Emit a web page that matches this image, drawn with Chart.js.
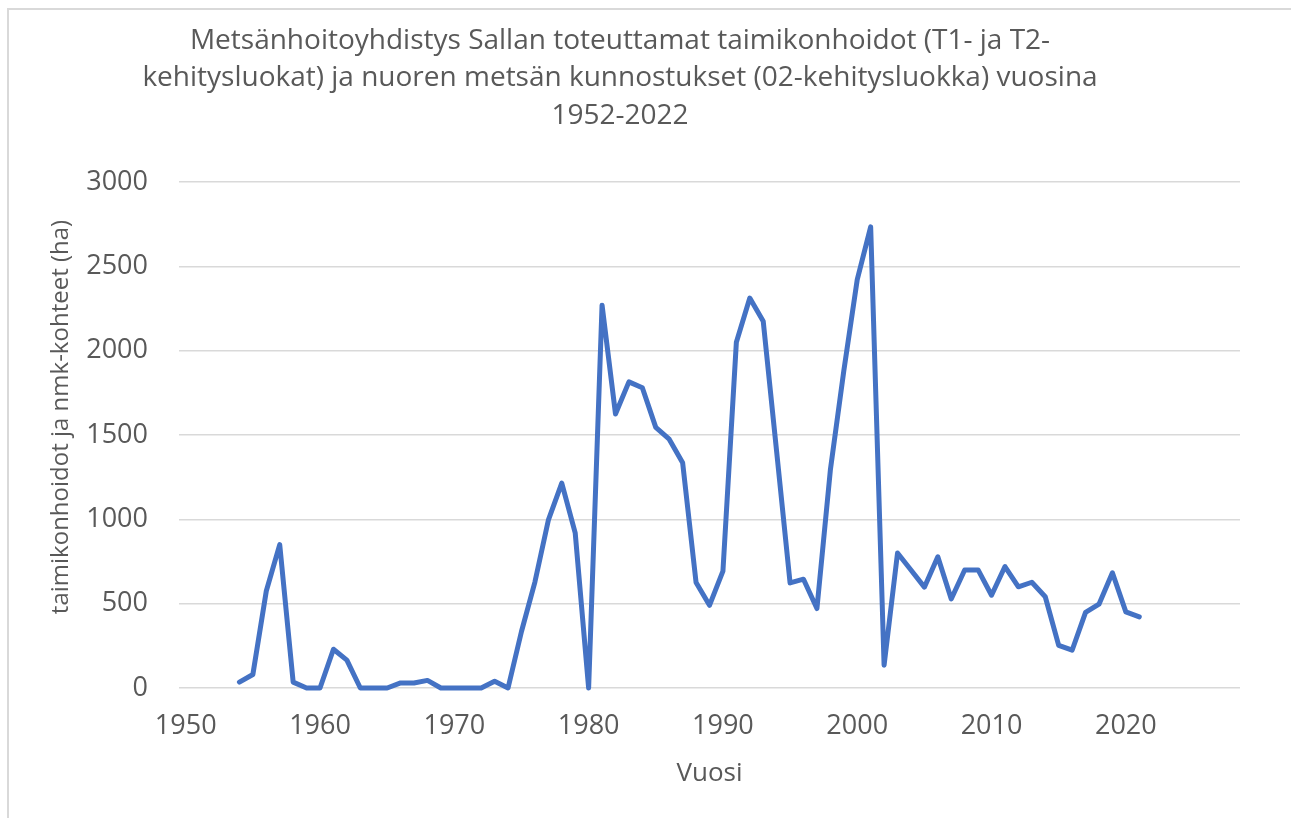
<!DOCTYPE html>
<html>
<head>
<meta charset="utf-8">
<script src="https://cdn.jsdelivr.net/npm/chart.js@4"></script>
<style>
    html, body { margin: 0; padding: 0; background: #ffffff; overflow: hidden; }
    #frame {
        position: absolute; left: 7px; top: 8px; width: 1400px; height: 900px;
        border-top: 2px solid #d9d9d9; border-left: 2px solid #d9d9d9;
    }
    #chart { position: absolute; left: 0; top: 0; }
</style>
</head>
<body>
<div id="frame"></div>
<canvas id="chart" width="1240" height="818"></canvas>
<script>
// Years and hectares
const years = [
    1954, 1955, 1956, 1957, 1958, 1959, 1960, 1961, 1962, 1963,
    1964, 1965, 1966, 1967, 1968, 1969, 1970, 1971, 1972, 1973,
    1974, 1975, 1976, 1977, 1978, 1979, 1980, 1981, 1982, 1983,
    1984, 1985, 1986, 1987, 1988, 1989, 1990, 1991, 1992, 1993,
    1994, 1995, 1996, 1997, 1998, 1999, 2000, 2001, 2002, 2003,
    2004, 2005, 2006, 2007, 2008, 2009, 2010, 2011, 2012, 2013,
    2014, 2015, 2016, 2017, 2018, 2019, 2020, 2021
];
const hectares = [
    35, 80, 575, 850, 35, 0, 0, 230, 165, 0,
    0, 0, 30, 30, 45, 0, 0, 0, 0, 40,
    0, 335, 628, 995, 1215, 920, 0, 2270, 1625, 1815,
    1780, 1545, 1475, 1335, 625, 490, 693, 2050, 2312, 2175,
    1400, 623, 645, 471, 1293, 1880, 2421, 2734, 135, 800,
    700, 598, 778, 528, 700, 700, 550, 720, 600, 627,
    541, 253, 224, 448, 497, 683, 451, 422
];
const xTicks = [1950, 1960, 1970, 1980, 1990, 2000, 2010, 2020];
const yTicks = [0, 500, 1000, 1500, 2000, 2500, 3000];

const titleLines = [
    'Metsänhoitoyhdistys Sallan toteuttamat taimikonhoidot (T1- ja T2-',
    'kehitysluokat) ja nuoren metsän kunnostukset (02-kehitysluokka) vuosina',
    '1952-2022'
];
const yTitle = 'taimikonhoidot ja nmk-kohteet (ha)';
const xTitle = 'Vuosi';

const textColor = '#595959';
const fontFamily = '"Open Sans", sans-serif';

// y axis title drawn by hand so it sits where Excel put it
const yTitlePlugin = {
    id: 'yTitle',
    afterDraw(chart) {
        const ctx = chart.ctx;
        ctx.save();
        ctx.translate(61, 417);
        ctx.rotate(-Math.PI / 2);
        ctx.fillStyle = textColor;
        ctx.font = '24px ' + fontFamily;
        ctx.textAlign = 'center';
        ctx.textBaseline = 'middle';
        ctx.fillText(yTitle, 0, 0);
        ctx.restore();
    }
};

const points = years.map((y, i) => ({ x: y, y: hectares[i] }));

new Chart(document.getElementById('chart'), {
    type: 'line',
    data: {
        datasets: [{
            data: points,
            borderColor: '#4472C4',
            borderWidth: 5,
            borderJoinStyle: 'round',
            borderCapStyle: 'round',
            pointRadius: 0,
            tension: 0,
            clip: false
        }]
    },
    options: {
        responsive: false,
        animation: false,
        layout: { padding: 0 },
        plugins: {
            legend: { display: false },
            tooltip: { enabled: false },
            title: {
                display: true,
                text: titleLines,
                color: textColor,
                font: { family: fontFamily, size: 28, weight: 'normal', lineHeight: 1.34 },
                padding: { top: 22, bottom: 182 - 22 - 3 * 28 * 1.34 }
            }
        },
        scales: {
            x: {
                type: 'linear',
                min: 1949.5,
                max: 2028.5,
                grid: { display: false, drawTicks: false },
                border: { display: false },
                afterBuildTicks: scale => { scale.ticks = xTicks.map(v => ({ value: v })); },
                afterFit: scale => { scale.height = 130; },
                ticks: {
                    color: textColor,
                    font: { family: fontFamily, size: 27 },
                    padding: 22,
                    maxRotation: 0,
                    callback: v => String(v)
                },
                title: {
                    display: true,
                    text: xTitle,
                    color: textColor,
                    font: { family: fontFamily, size: 26 },
                    padding: { top: 0, bottom: 29 }
                }
            },
            y: {
                min: 0,
                max: 3000,
                grid: { color: '#d9d9d9', lineWidth: 1.5, drawTicks: false },
                border: { display: false },
                afterBuildTicks: scale => { scale.ticks = yTicks.map(v => ({ value: v })); },
                afterFit: scale => { scale.width = 179; },
                ticks: {
                    color: textColor,
                    font: { family: fontFamily, size: 27 },
                    padding: 31,
                    callback: v => String(v)
                }
            }
        }
    },
    plugins: [yTitlePlugin]
});
</script>
</body>
</html>
